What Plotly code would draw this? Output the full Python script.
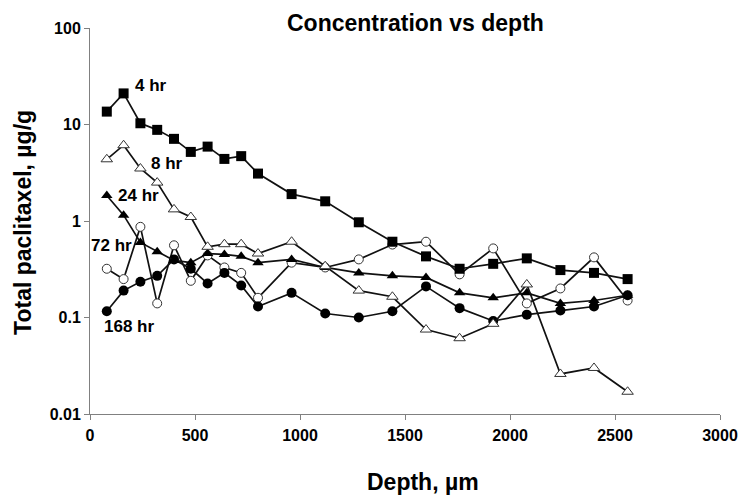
import math
import plotly.graph_objects as go

depth = [80, 160, 240, 320, 400, 480, 560, 640, 720, 800, 960, 1120, 1280,
         1440, 1600, 1760, 1920, 2080, 2240, 2400, 2560]
hr4 = [13.6, 21, 10.3, 8.8, 7.1, 5.2, 5.9, 4.4, 4.7, 3.1, 1.9, 1.6, 0.97,
       0.61, 0.43, 0.32, 0.36, 0.41, 0.31, 0.29, 0.25]
hr8 = [4.36, 6.1, 3.5, 2.5, 1.32, 1.1, 0.54, 0.575, 0.575, 0.46, 0.61, 0.34,
       0.19, 0.164, 0.075, 0.061, 0.086, 0.22, 0.026, 0.030, 0.017]
hr24 = [1.84, 1.15, 0.60, 0.48, 0.39, 0.37, 0.46, 0.45, 0.43, 0.37, 0.40, 0.33,
        0.29, 0.27, 0.26, 0.18, 0.16, 0.18, 0.14, 0.15, 0.17]
hr72 = [0.32, 0.25, 0.87, 0.14, 0.56, 0.24, 0.44, 0.33, 0.29, 0.16, 0.37, 0.33,
        0.40, 0.57, 0.61, 0.28, 0.52, 0.14, 0.20, 0.42, 0.15]
hr168 = [0.116, 0.19, 0.235, 0.27, 0.40, 0.32, 0.225, 0.29, 0.215, 0.13, 0.18,
         0.11, 0.10, 0.116, 0.21, 0.125, 0.092, 0.107, 0.118, 0.13, 0.17]

series_names = ["4 hr", "8 hr", "24 hr", "72 hr", "168 hr"]
# label anchor positions (depth, concentration)
label_x = [292, 366, 229, 102, 186]
label_y = [25.1, 3.96, 1.85, 0.557, 0.081]

FONT = "Liberation Sans, Arial, sans-serif"

styles = [
    (hr72, dict(symbol="circle", size=9, color="white", line=dict(color="#333", width=1))),
    (hr168, dict(symbol="circle", size=10, color="black", line=dict(color="black", width=0))),
    (hr24, dict(symbol="triangle-up", size=10, color="black", line=dict(color="black", width=0))),
    (hr8, dict(symbol="triangle-up", size=10, color="white", line=dict(color="#333", width=1))),
    (hr4, dict(symbol="square", size=10, color="black", line=dict(color="black", width=0))),
]

fig = go.Figure()
for vals, mk in styles:
    fig.add_trace(go.Scatter(x=depth, y=vals, mode="lines+markers",
                             line=dict(color="#111", width=1.7),
                             marker=mk, showlegend=False))

for name, lx, ly in zip(series_names, label_x, label_y):
    fig.add_annotation(x=lx, y=math.log10(ly), xref="x", yref="y", text=f"<b>{name}</b>",
                       showarrow=False, font=dict(family=FONT, size=17, color="black"))

fig.add_annotation(x=0.517, y=1.0, xref="paper", yref="paper", yshift=5,
                   yanchor="middle", text="<b>Concentration vs depth</b>", showarrow=False,
                   font=dict(family=FONT, size=23, color="black"))
fig.add_annotation(x=0.529, y=-0.1765, xref="paper", yref="paper", yanchor="middle",
                   text="<b>Depth, µm</b>", showarrow=False,
                   font=dict(family=FONT, size=23, color="black"))
fig.add_annotation(x=-0.1074, y=0.496, xref="paper", yref="paper", textangle=-90,
                   xanchor="center", yanchor="middle",
                   text="<b>Total paclitaxel, µg/g</b>", showarrow=False,
                   font=dict(family=FONT, size=23, color="black"))

# the page body adds an 8px margin, so the figure is sized to the visible area
fig.update_layout(
    width=742, height=493,
    margin=dict(l=82, r=27, t=15, b=87),
    paper_bgcolor="white", plot_bgcolor="white",
    font=dict(family=FONT, color="black"),
)
fig.update_xaxes(range=[0, 3000], dtick=500, tick0=0, showgrid=False, zeroline=False,
                 showline=True, linecolor="#808080", linewidth=1,
                 ticks="outside", ticklen=5, tickcolor="#808080",
                 tickfont=dict(family=FONT, size=16), tickprefix="<b>", ticksuffix="</b>",
                 ticklabelstandoff=2)
fig.update_yaxes(type="log", range=[-2, 2], showgrid=False, zeroline=False,
                 tickvals=[0.01, 0.1, 1, 10, 100],
                 ticktext=["<b>0.01</b>", "<b>0.1</b>", "<b>1</b>", "<b>10</b>", "<b>100</b>"],
                 showline=True, linecolor="#808080", linewidth=1,
                 ticks="outside", ticklen=5, tickcolor="#808080",
                 tickfont=dict(family=FONT, size=16))

fig.write_html("out.html")
